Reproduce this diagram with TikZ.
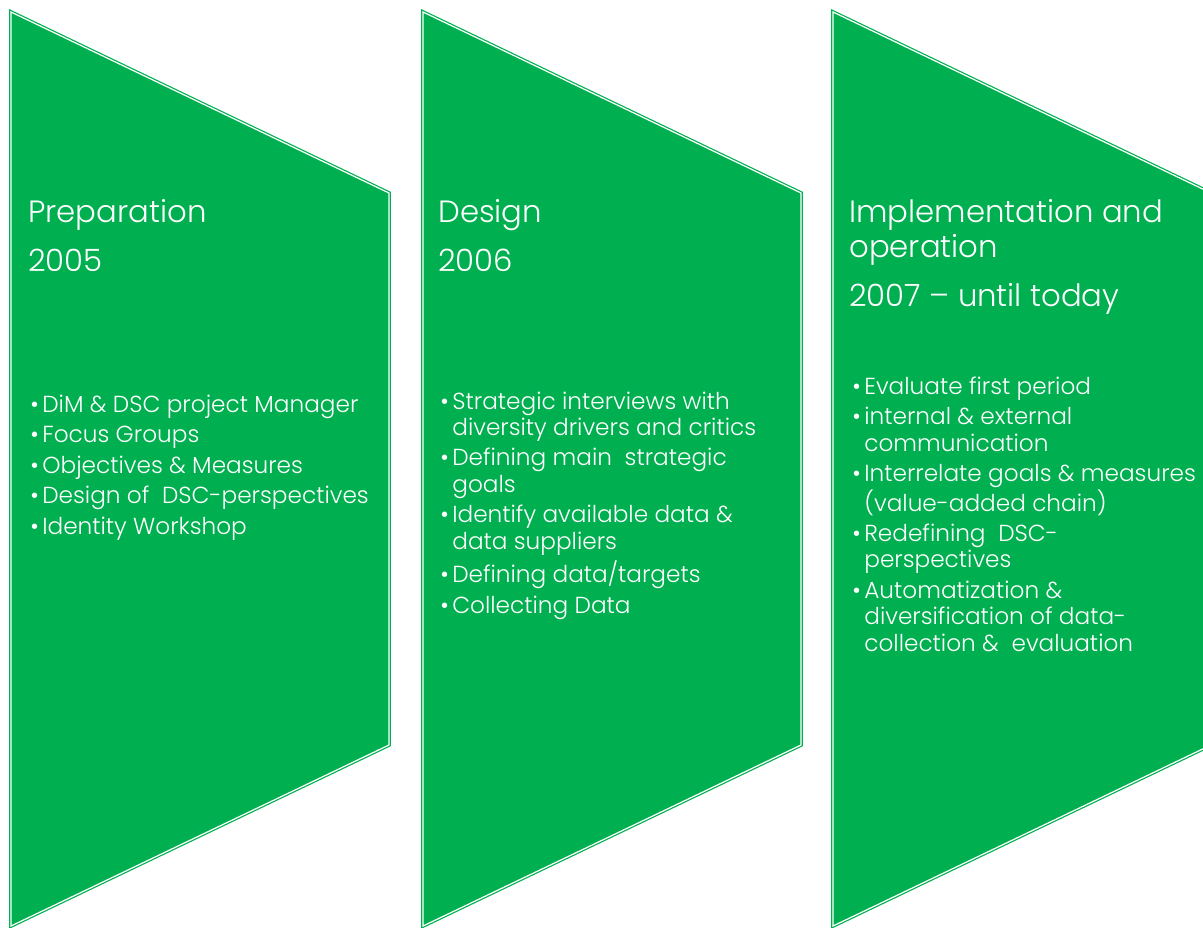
\documentclass[tikz,border=0pt]{standalone}
\usepackage{fontspec}
\setmainfont{Poppins}[UprightFont=* Light]
\definecolor{phasegreen}{RGB}{0,176,80}
\newcommand{\pbul}{\textbullet\hspace{2pt}}
\newcommand{\pind}{\phantom{\pbul}}

\begin{document}
\begin{tikzpicture}[
  x=0.02cm, y=-0.02cm,
  phase/.style={fill=phasegreen,draw=phasegreen,double=white,
    double distance=0.7pt,line width=0.7pt,line join=miter},
  headtext/.style={anchor=base west,inner sep=0pt,text=white,align=left,
    font=\fontsize{17.5}{19.8}\selectfont},
  itemtext/.style={anchor=base west,inner sep=0pt,text=white,align=left,
    font=\fontsize{13.2}{15}\selectfont}
]
  \useasboundingbox (0,0) rectangle (1203,927);
  \clip (0,0) rectangle (1203,927);
  % Phase arrows
  \draw[phase] (11,12) -- (389,193) -- (389,745) -- (11,926) -- cycle;
  \draw[phase] (423,12) -- (801,193) -- (801,745) -- (423,926) -- cycle;
  \draw[phase] (833,12) -- (1211,193) -- (1211,745) -- (833,926) -- cycle;
  % Preparation (nodes sit on the baseline of their last line)
  \node[headtext] (prep) at (28,271) {Preparation\\[8pt]2005};
  \node[itemtext] (prepitems) at (30,534) {%
    \pbul DiM \& DSC project Manager\\[2.3pt]
    \pbul Focus Groups\\[2.3pt]
    \pbul Objectives \& Measures\\[2.3pt]
    \pbul Design of \ DSC-perspectives\\[2.3pt]
    \pbul Identity Workshop};
  % Design
  \node[headtext] (design) at (438,271) {Design\\[8pt]2006};
  \node[itemtext] (designitems) at (440,613) {%
    \pbul Strategic interviews with\\
    \pind diversity drivers and critics\\[2.3pt]
    \pbul Defining main \ strategic\\
    \pind goals\\[2.3pt]
    \pbul Identify available data \&\\
    \pind data suppliers\\[2.3pt]
    \pbul Defining data/targets\\[2.3pt]
    \pbul Collecting Data};
  % Implementation
  \node[headtext] (impl) at (849,306) {Implementation and\\operation\\[8pt]2007 -- until today};
  \node[itemtext] (implitems) at (852,651) {%
    \pbul Evaluate first period\\[2.3pt]
    \pbul internal \& external\\
    \pind communication\\[2.3pt]
    \pbul Interrelate goals \& measures\\
    \pind (value-added chain)\\[2.3pt]
    \pbul Redefining \ DSC-\\
    \pind perspectives\\[2.3pt]
    \pbul Automatization \&\\
    \pind diversification of data-\\
    \pind collection \& \ evaluation};
\end{tikzpicture}
\end{document}
